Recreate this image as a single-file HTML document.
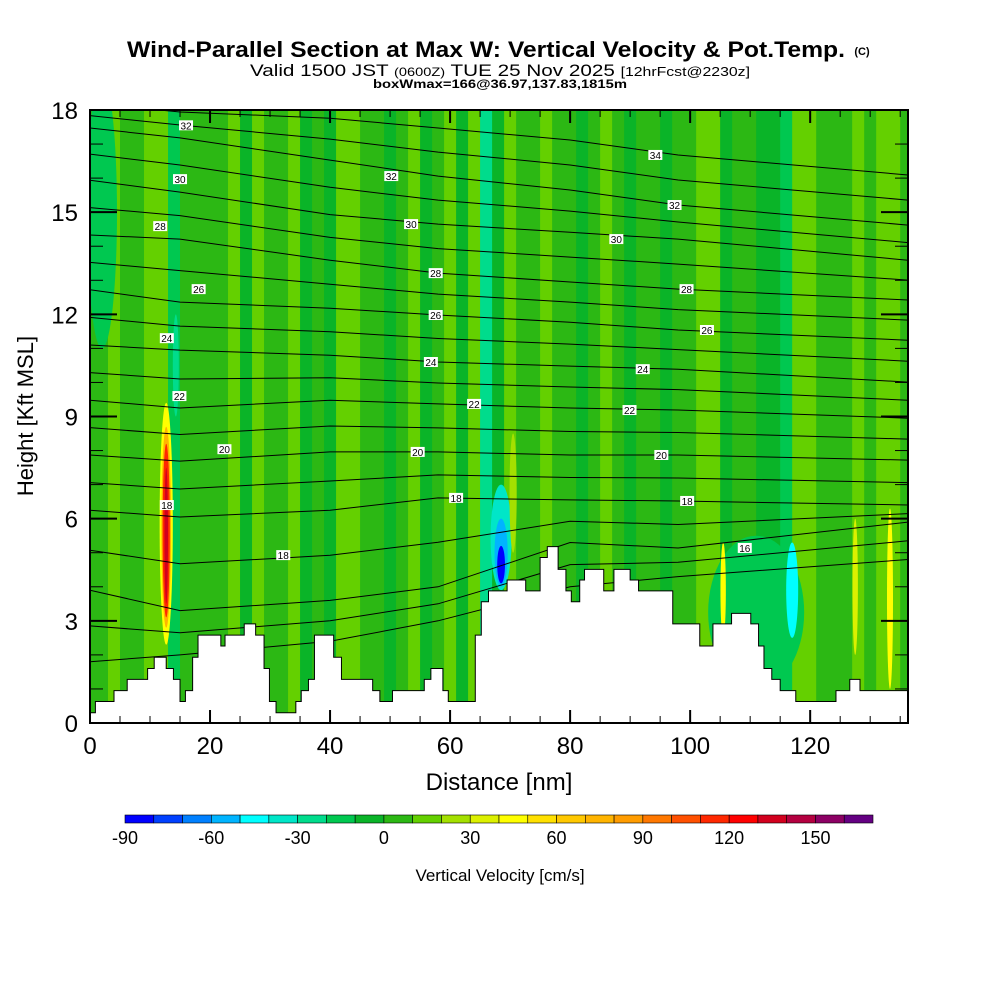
<!DOCTYPE html>
<html><head><meta charset="utf-8"><style>
body{margin:0;background:#fff;}
svg{display:block;font-family:"Liberation Sans",sans-serif;}
</style></head><body>
<svg id="chart" width="1000" height="1000" viewBox="0 0 1000 1000">
<text x="127" y="57" textLength="718" lengthAdjust="spacingAndGlyphs" font-size="22" font-weight="bold">Wind-Parallel Section at Max W: Vertical Velocity &amp; Pot.Temp.</text>
<text x="862" y="55" text-anchor="middle" font-size="11" font-weight="bold">(C)</text>
<text x="250" y="76" textLength="500" lengthAdjust="spacingAndGlyphs" font-size="17">Valid 1500 JST <tspan font-size="12">(0600Z)</tspan> TUE 25 Nov 2025 <tspan font-size="13">[12hrFcst@2230z]</tspan></text>
<text x="373" y="88" textLength="254" lengthAdjust="spacingAndGlyphs" font-size="12" font-weight="bold">boxWmax=166@36.97,137.83,1815m</text>
<defs><clipPath id="pc"><rect x="90" y="110" width="818" height="613"/></clipPath></defs>
<g id="field" clip-path="url(#pc)"></g>
<g id="contours" clip-path="url(#pc)"></g>
<g id="terrain" clip-path="url(#pc)"></g>
<g id="labels"></g>
<g id="axes"></g>
<rect x="90" y="110" width="818" height="613" fill="none" stroke="#000" stroke-width="2"/>
<text transform="translate(33,416) rotate(-90)" text-anchor="middle" font-size="22">Height [Kft MSL]</text>
<text x="499" y="790" text-anchor="middle" font-size="24">Distance [nm]</text>
<g id="cbar"></g>
<text x="500" y="881" text-anchor="middle" font-size="17">Vertical Velocity [cm/s]</text>
</svg>
<script>
const NS="http://www.w3.org/2000/svg";
const binColors=["#0000ff","#0040ff","#0080ff","#00b4ff","#00ffff","#00e6c8","#00dc8c","#00c850","#0ab428","#2cb814","#64d000","#a4e000","#dcf000","#ffff00","#ffe000","#ffc800","#ffb400","#ff9c00","#ff7800","#ff5000","#ff2800","#ff0000","#d2001e","#b40040","#8c0064","#640082"];
const cbarTicks=[-90,-60,-30,0,30,60,90,120,150];
const xTicks=[0,20,40,60,80,100,120];
const yTicks=[0,3,6,9,12,15,18];
// column vertical velocity (cm/s) every 2 nm from 0 to 136
const colW=[5,0,15,5,0,15,15,-15,5,0,0,5,15,-5,15,5,0,15,-5,5,-10,15,15,0,5,-5,5,15,-5,0,15,-10,15,-25,-10,15,5,0,15,5,0,-5,5,15,5,-5,5,0,-5,5,5,15,15,-5,5,0,-5,-10,-15,15,15,5,5,0,15,5,15,15,5];
// localized features
const featX=[2,111,14.3,12.7,12.7,12.7,12.7,68.5,68.5,68.5,117,105.5,127.5,133.3,70.5];
const featWid=[5,16,1.0,2.2,1.6,1.2,0.6,3.5,2.2,1.3,2.0,0.9,0.9,1.0,1.2];
const featBot=[11,1,9,2.3,2.8,3.1,3.5,3.9,4.0,4.1,2.5,2.5,2,1,5];
const featTop=[19,5.5,12,9.4,8.7,8.2,7.5,7.0,6.0,5.2,5.3,5.3,6,6.3,8.5];
const featVal=[-15,-15,-25,45,75,115,135,-35,-55,-85,-45,45,35,45,25];
// terrain step starts (nm) and heights (kft)
const terrX=[0,0.9,4.0,6.2,9.6,10.7,12.7,13.9,15.0,15.9,17.1,18.0,21.8,22.5,25.7,27.6,29.0,29.9,31.0,34.3,35.2,36.4,37.4,38.8,40.6,41.9,43.9,47.1,48.3,50.4,55.7,56.8,58.8,59.7,64.2,65.2,66.4,69.5,72.6,75.0,76.2,78.0,79.3,80.2,81.6,82.4,85.6,87.3,90.0,91.4,97.1,101.6,103.8,106.9,110.1,111.4,112.3,113.6,115.0,117.6,124.3,126.6,128.3];
const terrH=[0.30,0.63,0.95,1.28,1.6,1.93,1.6,1.28,0.63,0.95,1.93,2.58,2.26,2.58,2.91,2.58,1.6,0.63,0.30,0.63,0.95,1.28,2.58,2.58,1.93,1.28,1.28,0.95,0.63,0.95,1.28,1.6,0.95,0.63,2.58,3.56,3.88,4.2,3.88,4.86,5.18,4.51,3.88,3.56,4.2,4.51,3.88,4.51,4.2,3.88,2.91,2.26,2.91,3.22,2.91,2.26,1.6,1.28,0.95,0.63,0.95,1.28,0.95];
// theta contours: heights (kft) at anchor distances
const ancX=[0,15,40,58,80,98,136.3];
const thH=[
[1.8,2.0,2.4,3.0,4.0,4.3,4.8],
[3.9,3.3,3.6,4.0,5.3,5.14,5.9],
[6.25,6.05,6.25,6.61,6.55,6.52,6.40],
[7.87,7.69,7.96,7.96,7.87,7.87,7.72],
[9.48,9.25,9.48,9.37,9.25,9.19,8.95],
[11.10,10.95,10.80,10.60,10.48,10.39,10.01],
[12.72,12.36,12.18,11.98,11.77,11.54,11.24],
[14.33,14.21,13.59,13.21,12.95,12.74,12.42],
[15.94,15.59,14.93,14.65,14.41,14.21,13.59],
[17.47,17.18,16.53,16.06,15.65,15.21,14.62],
[18.2,17.94,17.76,17.47,17.12,16.68,16.09]];
const lblText=["32","30","28","26","24","22","20","18","18","32","30","28","26","24","22","20","18","34","32","30","28","26","24","22","20","18","16"];
const lblX=[16,15,11.7,18.1,12.8,14.9,22.4,12.8,32.2,50.2,53.5,57.6,57.6,56.8,64,54.6,61,94.2,97.4,87.7,99.4,102.8,92.1,89.9,95.2,99.5,109.1];
const lblY=[17.55,15.97,14.59,12.74,11.30,9.60,8.04,6.40,4.93,16.06,14.65,13.21,11.98,10.60,9.37,7.96,6.61,16.68,15.21,14.21,12.74,11.54,10.39,9.19,7.87,6.52,5.14];

const X=d=>90+d*818/136.3;
const Y=h=>723-h*613/18;
const col=v=>binColors[Math.max(0,Math.min(25,Math.floor((v+90)/10)))];
function mk(tag,attrs,parent){const e=document.createElementNS(NS,tag);for(const k in attrs)e.setAttribute(k,attrs[k]);parent.appendChild(e);return e;}

const field=document.getElementById('field');
let bg=mk('rect',{x:90,y:110,width:818,height:613,fill:"#0ab428"},field);


colW.forEach((w,i)=>{
  const d=i*2;
  let r=mk('rect',{x:X(d-1),y:110,width:X(d+1)-X(d-1)+0.5,height:613,fill:col(w)},field);
  
  
});
featX.forEach((fx,i)=>{
  const cx=X(fx),rx=(X(featWid[i])-X(0))/2,cy=(Y(featBot[i])+Y(featTop[i]))/2,ry=(Y(featBot[i])-Y(featTop[i]))/2;
  let e=mk('ellipse',{cx:cx,cy:cy,rx:rx,ry:ry,fill:col(featVal[i])},field);
  
  
});

const cg=document.getElementById('contours');
function lvlPts(arr){return ancX.map((d,i)=>X(d).toFixed(1)+","+Y(arr[i]).toFixed(1)).join(" ");}
thH.forEach((arr,i)=>{
  let p=mk('polyline',{points:lvlPts(arr),fill:"none",stroke:"#000","stroke-width":1},cg);
  
  
  if(i<thH.length-1){
    const mid=arr.map((v,j)=>(v+thH[i+1][j])/2);
    let q=mk('polyline',{points:lvlPts(mid),fill:"none",stroke:"#000","stroke-width":1},cg);
    
    
  }
});

const tg=document.getElementById('terrain');
let d="M"+X(0)+","+Y(0);
terrX.forEach((tx,i)=>{const x2=i<terrX.length-1?terrX[i+1]:136.3;d+=" L"+X(tx)+","+Y(terrH[i])+" L"+X(x2)+","+Y(terrH[i]);});
d+=" L"+X(136.3)+","+Y(0)+" Z";
let tp=mk('path',{d:d,fill:"#fff",stroke:"#000","stroke-width":1},tg);



const lg=document.getElementById('labels');
lblText.forEach((t,i)=>{
  const x=X(lblX[i]),y=Y(lblY[i]);
  let r=mk('rect',{x:x-7,y:y-5,width:14,height:10,fill:"#fff"},lg);
  
  
  let tx=mk('text',{x:x,y:y+4,"text-anchor":"middle","font-size":10},lg);
  tx.textContent=t;
  
  
});

const ag=document.getElementById('axes');
for(let v=0;v<=135;v+=5){
  const major=v%20===0,len=major?13:7,x=X(v);
  let a=mk('line',{x1:x,x2:x,y1:723,y2:723-len,stroke:"#000","stroke-width":major?2:1},ag);
  
  let b=mk('line',{x1:x,x2:x,y1:110,y2:110+len,stroke:"#000","stroke-width":major?2:1},ag);
  
}
for(let v=0;v<=18;v++){
  const major=v%3===0,len=major?27:13,y=Y(v);
  let a=mk('line',{x1:90,x2:90+len,y1:y,y2:y,stroke:"#000","stroke-width":major?2:1},ag);
  
  let b=mk('line',{x1:908,x2:908-len,y1:y,y2:y,stroke:"#000","stroke-width":major?2:1},ag);
  
}
xTicks.forEach(v=>{
  let t=mk('text',{x:X(v),y:754,"text-anchor":"middle","font-size":24},ag);
  t.textContent=v;
});
yTicks.forEach(v=>{
  let t=mk('text',{x:78,y:Y(v)+9,"text-anchor":"end","font-size":24},ag);
  t.textContent=v;
});

const cb=document.getElementById('cbar');
const cbX=v=>125+(v+90)*748/260;
binColors.forEach((c,i)=>{
  let r=mk('rect',{x:cbX(-90+i*10),y:815,width:748/26,height:8,fill:c,stroke:"#000","stroke-width":0.6},cb);
  
});
cbarTicks.forEach(v=>{
  let t=mk('text',{x:cbX(v),y:844,"text-anchor":"middle","font-size":18},cb);
  t.textContent=v;
});
</script>
</body></html>
